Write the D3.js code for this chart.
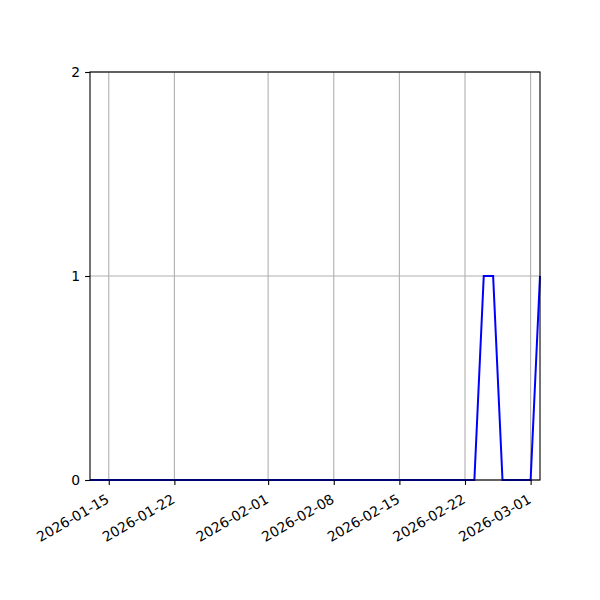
<!DOCTYPE html>
<html><head><meta charset="utf-8">
<script src="https://cdn.jsdelivr.net/npm/d3@7"></script>
<style>body{margin:0;background:#fff}svg{display:block}</style>
</head><body>
<script>
const startDate = "2026-01-13";
const values = [0,0,0,0,0,0,0,0,0,0, 0,0,0,0,0,0,0,0,0,0, 0,0,0,0,0,0,0,0,0,0, 0,0,0,0,0,0,0,0,0,0, 0,0,1,1,0,0,0,0,1];
const xTickLabels = ["2026-01-15","2026-01-22","2026-02-01","2026-02-08","2026-02-15","2026-02-22","2026-03-01"];
const yTicks = [0,1,2];

const parse = d3.utcParse("%Y-%m-%d");
const fmt = d3.utcFormat("%Y-%m-%d");
const s0 = parse(startDate);
const data = values.map((v,i)=>({date: d3.utcDay.offset(s0,i), value: v}));

const W=600,H=600, L=90, R=540, T=72, B=480;
const svg = d3.select("body").append("svg").attr("width",W).attr("height",H)
  .style("font-family","DejaVu Sans");
const x = d3.scaleUtc().domain(d3.extent(data,d=>d.date)).range([L,R]);
const y = d3.scaleLinear().domain([0,2]).range([B,T]);
const xt = xTickLabels.map(parse);

// grid
svg.append("g").selectAll("line").data(xt).join("line")
  .attr("x1",d=>x(d)).attr("x2",d=>x(d)).attr("y1",T).attr("y2",B)
  .attr("stroke","#b0b0b0").attr("stroke-width",1.1);
svg.append("g").selectAll("line").data(yTicks).join("line")
  .attr("x1",L).attr("x2",R).attr("y1",d=>y(d)).attr("y2",d=>y(d))
  .attr("stroke","#b0b0b0").attr("stroke-width",1.1);

// line
svg.append("path").datum(data)
  .attr("d", d3.line().x(d=>x(d.date)).y(d=>y(d.value)))
  .attr("fill","none").attr("stroke","#0000ff").attr("stroke-width",2)
  .attr("stroke-linejoin","miter");

// axes
const xa = svg.append("g").attr("transform",`translate(0,${B})`)
  .call(d3.axisBottom(x).tickValues(xt).tickFormat(fmt).tickSize(4.9).tickPadding(3.5));
xa.select(".domain").remove();
xa.selectAll("text").attr("font-size","13.9px").attr("font-family","DejaVu Sans")
  .attr("fill","#000")
  .attr("text-anchor","end").attr("x",0).attr("y",0).attr("dy",null)
  .attr("transform","translate(1,22) rotate(-30)");
const ya = svg.append("g").attr("transform",`translate(${L},0)`)
  .call(d3.axisLeft(y).tickValues(yTicks).tickFormat(d3.format("d")).tickSize(4.9).tickPadding(4.9));
ya.select(".domain").remove();
ya.selectAll("text").attr("font-size","13.9px").attr("font-family","DejaVu Sans").attr("fill","#000");
svg.selectAll(".tick line").attr("stroke","#000").attr("stroke-width",1.1);

svg.append("rect").attr("x",L).attr("y",T).attr("width",R-L).attr("height",B-T)
  .attr("fill","none").attr("stroke","#000").attr("stroke-width",1.1);
</script>
</body></html>
